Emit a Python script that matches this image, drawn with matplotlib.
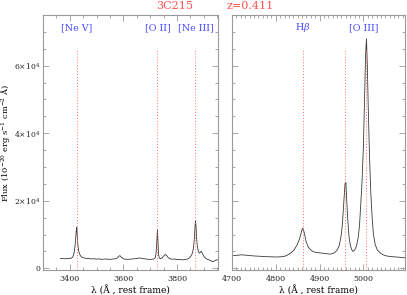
import numpy as np
import matplotlib
matplotlib.use("Agg")
import matplotlib.pyplot as plt
from matplotlib.ticker import MultipleLocator, FuncFormatter

plt.rcParams['font.family'] = ['DejaVu Serif']
plt.rcParams['mathtext.fontset'] = 'dejavuserif'

# spectrum, left panel (3300-3950 A)
lam_l = [3365, 3372, 3380, 3388, 3395, 3400, 3405, 3410, 3414, 3417, 3420, 3422, 3424, 3426,
         3428, 3430, 3433, 3436, 3440, 3445, 3452, 3460, 3470, 3480, 3490, 3500, 3510, 3520,
         3530, 3540, 3550, 3560, 3570, 3578, 3583, 3587, 3592, 3598, 3605, 3615, 3625, 3635,
         3645, 3655, 3662, 3670, 3680, 3690, 3700, 3708, 3714, 3719, 3722, 3725, 3727, 3729,
         3731, 3734, 3738, 3743, 3748, 3753, 3757, 3762, 3768, 3775, 3782, 3790, 3800, 3810,
         3820, 3830, 3838, 3845, 3850, 3855, 3859, 3862, 3865, 3867, 3869, 3871, 3873, 3876,
         3879, 3882, 3885, 3888, 3891, 3895, 3900, 3906, 3912, 3920, 3927, 3933, 3938, 3944,
         3950, 3955]
flux_l = [2900, 2950, 2800, 2900, 2850, 3000, 2950, 3300, 3900, 5000, 7000, 9000, 11000, 12100,
          9500, 7000, 5200, 4300, 3700, 3300, 3100, 2900, 2950, 2750, 2850, 2700, 2800, 2650,
          2750, 2700, 2650, 2750, 2800, 3100, 3600, 3750, 3300, 2900, 2700, 2650, 2700, 2800,
          2850, 3000, 3050, 2900, 2800, 2700, 2600, 2700, 2800, 3200, 4500, 8500, 11500, 8000,
          4200, 3000, 2900, 3000, 3400, 3900, 4100, 3700, 3100, 2800, 2700, 2750, 2600, 2650,
          2500, 2600, 2700, 3000, 3400, 4000, 5000, 6500, 9000, 12000, 14000, 12500, 9000, 6500,
          5200, 4600, 4500, 4900, 5000, 4400, 3600, 3000, 2700, 2500, 2200, 2000, 2100, 2400,
          2500, 2600]

# right panel (4700-5095 A)
lam_r = [4700, 4708, 4715, 4722, 4730, 4740, 4750, 4760, 4770, 4780, 4790, 4800, 4810, 4818,
         4825, 4830, 4836, 4842, 4848, 4853, 4857, 4860, 4862, 4865, 4869, 4874, 4880, 4886,
         4892, 4898, 4905, 4912, 4918, 4924, 4930, 4935, 4940, 4945, 4949, 4952, 4955, 4958,
         4960, 4962, 4964, 4967, 4970, 4973, 4976, 4980, 4984, 4988, 4991, 4994, 4997, 5000,
         5003, 5005, 5007, 5009, 5011, 5014, 5017, 5020, 5023, 5027, 5032, 5038, 5045, 5052,
         5060, 5070, 5080, 5088, 5095]
flux_r = [3700, 3800, 3900, 4000, 3900, 3800, 3650, 3600, 3500, 3450, 3400, 3350, 3400, 3500,
          3800, 4200, 4700, 5500, 6800, 8300, 10000, 11500, 11900, 10500, 8000, 6300, 5400, 4900,
          4700, 4600, 4500, 4400, 4300, 4200, 4400, 4700, 5400, 6800, 9500, 13000, 19000, 25000,
          25500, 20000, 15000, 9500, 7000, 5600, 5000, 5400, 6500, 9000, 12500, 19000, 26000, 36000,
          52000, 63000, 68000, 60000, 48000, 33000, 22000, 15000, 10000, 7000, 5400, 4600, 4000, 3700,
          3500, 3400, 3300, 3200, 3100]

lines_l = [3426, 3727, 3869]
names_l = ['[Ne V]', '[O II]', '[Ne III]']
label_x_l = [3426, 3727, 3869]
lines_r = [4861, 4959, 5007]
names_r = [r'H$\beta$', '[O III]']
label_x_r = [4861, 5000]

gray = '#9a9a9a'
fig = plt.figure(figsize=(4.07, 2.95), dpi=100)
ax1 = fig.add_axes([43/407, 25/295, 175/407, 255/295])
ax2 = fig.add_axes([232/407, 25/295, 173/407, 255/295])

ymin, ymax = -500, 75000

def sci(v, pos):
    if v == 0:
        return '0'
    return r'%d$\times$10$^{4}$' % int(round(v / 1e4))

for ax, lam, flux, lines, names, lx, xl, maj, mnr in [
        (ax1, lam_l, flux_l, lines_l, names_l, label_x_l, (3300, 3953), 200, 50),
        (ax2, lam_r, flux_r, lines_r, names_r, label_x_r, (4700, 5095), 100, 10)]:
    ax.plot(lam, flux, color='#3a3a3a', lw=0.6)
    ax.vlines(lines, ymin, 65000, colors='#ff6a6a', linestyles=(0, (1, 2)), lw=0.7)
    for x, n in zip(lx, names):
        ax.text(x, 71300, n, color='#4a4aff', ha='center', va='center', fontsize=6.8)
    ax.set_xlim(*xl)
    ax.set_ylim(ymin, ymax)
    ax.xaxis.set_major_locator(MultipleLocator(maj))
    ax.xaxis.set_minor_locator(MultipleLocator(mnr))
    ax.yaxis.set_major_locator(MultipleLocator(20000))
    ax.yaxis.set_minor_locator(MultipleLocator(5000))
    ax.tick_params(which='both', direction='in', top=True, right=True, colors=gray,
                   labelcolor='#222222', labelsize=5.8, width=0.6)
    ax.tick_params(which='major', length=4)
    ax.tick_params(which='minor', length=2)
    for s in ax.spines.values():
        s.set_color(gray)
        s.set_linewidth(0.8)
    ax.set_xlabel(u'\u03bb (\u00c5 , rest frame)', fontsize=6.5, labelpad=2)

ax1.yaxis.set_major_formatter(FuncFormatter(sci))
ax1.tick_params(axis='y', labelsize=5.5, pad=2)
ax2.set_yticklabels([])
ax1.set_ylabel(r'Flux (10$^{-20}$ erg s$^{-1}$ cm$^{-2}$ $\rm\AA$)', fontsize=6)
ax1.yaxis.set_label_coords(-0.175, 0.5)

fig.text(175/407, 1 - 6/295, '3C215', color='#ff5050', ha='center', va='center', fontsize=8)
fig.text(250/407, 1 - 6/295, 'z=0.411', color='#ff5050', ha='center', va='center', fontsize=8)

fig.savefig('out.png', dpi=100)
